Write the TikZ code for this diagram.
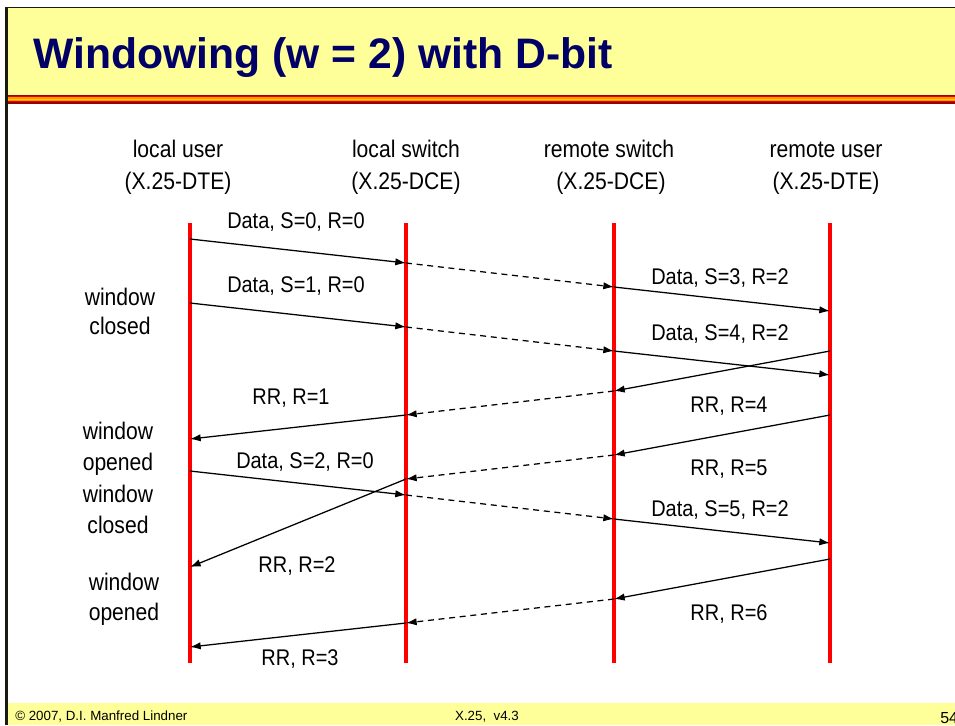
\documentclass[tikz,border=0pt]{standalone}
\usepackage{fontspec}
\setmainfont{Liberation Sans}
\newfontfamily\narrowsans{Liberation Sans}[FakeStretch=0.88]
\usetikzlibrary{arrows.meta}
\definecolor{slideyellow}{HTML}{FFFF99}
\definecolor{titlenavy}{HTML}{000066}
\definecolor{framedark}{HTML}{1A1A10}
\definecolor{stripedark}{HTML}{990000}
\definecolor{stripered}{HTML}{E00000}
\definecolor{stripeorange}{HTML}{FF9900}
\definecolor{stripeyellow}{HTML}{FFCC00}
\begin{document}
\begin{tikzpicture}[x=0.75pt,y=-0.75pt,
  lifeline/.style={draw=red, line width=2.5pt},
  msg/.style={-{Latex[length=8pt,width=5.5pt]}, line width=0.95pt},
  relay/.style={msg, dash pattern=on 4.5pt off 3.5pt},
  lbl/.style={font=\narrowsans\fontsize{17}{20}\selectfont, inner sep=0, anchor=base},
  hdr/.style={font=\narrowsans\fontsize{18}{22}\selectfont, inner sep=0, anchor=base},
  foot/.style={font=\fontsize{10}{12}\selectfont, inner sep=0, anchor=base}]
\useasboundingbox (0,0) rectangle (955,725);

% slide frame: title band, coloured stripe, footer band
\fill[slideyellow] (6,8) rectangle (955,95);
\fill[stripedark]   (6,95)    rectangle (955,103.5);
\fill[stripered]    (6,96.2)  rectangle (955,102.3);
\fill[stripeorange] (6,97.4)  rectangle (955,101.1);
\fill[stripeyellow] (6,98.6)  rectangle (955,99.9);
\fill[slideyellow] (8,703) rectangle (955,725);
\draw[framedark, line width=1.2pt] (5,7.5) -- (955,7.5);
\draw[framedark, line width=2pt] (6.5,7) -- (6.5,725);

% title
\node[font=\bfseries\fontsize{32}{36}\selectfont, text=titlenavy, inner sep=0, anchor=base west]
  (title) at (33,68) {Windowing (w = 2) with D-bit};

% footer
\node[foot, anchor=base west] (copy) at (15,720) {© 2007, D.I. Manfred Lindner};
\node[foot] (ver) at (487,720) {X.25,\ \ v4.3};
\node[font=\fontsize{12}{14}\selectfont, inner sep=0, anchor=base west] (page) at (940,723) {54};

% station headings
\node[hdr] (h1a) at (178,157) {local user};
\node[hdr] (h1b) at (178,189) {(X.25-DTE)};
\node[hdr] (h2a) at (406,157) {local switch};
\node[hdr] (h2b) at (406,189) {(X.25-DCE)};
\node[hdr] (h3a) at (609,157) {remote switch};
\node[hdr] (h3b) at (611,189) {(X.25-DCE)};
\node[hdr] (h4a) at (826,157) {remote user};
\node[hdr] (h4b) at (826,189) {(X.25-DTE)};

% lifelines
\coordinate (lu-t) at (190,223); \coordinate (lu-b) at (190,663);
\coordinate (ls-t) at (406,223); \coordinate (ls-b) at (406,663);
\coordinate (rs-t) at (614,223); \coordinate (rs-b) at (614,663);
\coordinate (ru-t) at (830,223); \coordinate (ru-b) at (830,663);
\draw[lifeline] (lu-t) -- (lu-b);
\draw[lifeline] (ls-t) -- (ls-b);
\draw[lifeline] (rs-t) -- (rs-b);
\draw[lifeline] (ru-t) -- (ru-b);

% message end points on the lifelines
\coordinate (a0) at (190,239); \coordinate (a1) at (406,263);
\coordinate (a2) at (614,287); \coordinate (a3) at (830,311);
\coordinate (b0) at (190,303); \coordinate (b1) at (406,327);
\coordinate (b2) at (614,351); \coordinate (b3) at (830,375);
\coordinate (c0) at (830,351); \coordinate (c1) at (614,391);
\coordinate (c2) at (406,415); \coordinate (c3) at (190,439);
\coordinate (d0) at (830,415); \coordinate (d1) at (614,455);
\coordinate (d2) at (406,479); \coordinate (d3) at (190,567);
\coordinate (e0) at (190,471); \coordinate (e1) at (406,495);
\coordinate (e2) at (614,519); \coordinate (e3) at (830,543);
\coordinate (f0) at (830,559); \coordinate (f1) at (614,599);
\coordinate (f2) at (406,623); \coordinate (f3) at (190,647);

% messages: DTE-DCE hops solid, network hops dashed
\draw[msg] (a0) -- (a1); \draw[relay] (a1) -- (a2); \draw[msg] (a2) -- (a3);
\draw[msg] (b0) -- (b1); \draw[relay] (b1) -- (b2); \draw[msg] (b2) -- (b3);
\draw[msg] (c0) -- (c1); \draw[relay] (c1) -- (c2); \draw[msg] (c2) -- (c3);
\draw[msg] (d0) -- (d1); \draw[relay] (d1) -- (d2); \draw[msg] (d2) -- (d3);
\draw[msg] (e0) -- (e1); \draw[relay] (e1) -- (e2); \draw[msg] (e2) -- (e3);
\draw[msg] (f0) -- (f1); \draw[relay] (f1) -- (f2); \draw[msg] (f2) -- (f3);

% message labels
\node[lbl] (la) at (296,228) {Data, S=0, R=0};
\node[lbl] (lb) at (296,292) {Data, S=1, R=0};
\node[lbl] (la2) at (720,284) {Data, S=3, R=2};
\node[lbl] (lb2) at (720,340) {Data, S=4, R=2};
\node[lbl] (lc) at (291,404) {RR, R=1};
\node[lbl] (ld) at (729,412) {RR, R=4};
\node[lbl] (le) at (305,468) {Data, S=2, R=0};
\node[lbl] (ld2) at (729,475) {RR, R=5};
\node[lbl] (le2) at (720,516) {Data, S=5, R=2};
\node[lbl] (lc2) at (297,572) {RR, R=2};
\node[lbl] (lf) at (729,620) {RR, R=6};
\node[lbl] (lf2) at (300,665) {RR, R=3};

% window state at the local user
\node[hdr] (w1a) at (120,305) {window};
\node[hdr] (w1b) at (120,334) {closed};
\node[hdr] (w2a) at (118,439) {window};
\node[hdr] (w2b) at (118,470) {opened};
\node[hdr] (w3a) at (118,502) {window};
\node[hdr] (w3b) at (118,533) {closed};
\node[hdr] (w4a) at (124,590) {window};
\node[hdr] (w4b) at (124,620) {opened};
\end{tikzpicture}
\end{document}
